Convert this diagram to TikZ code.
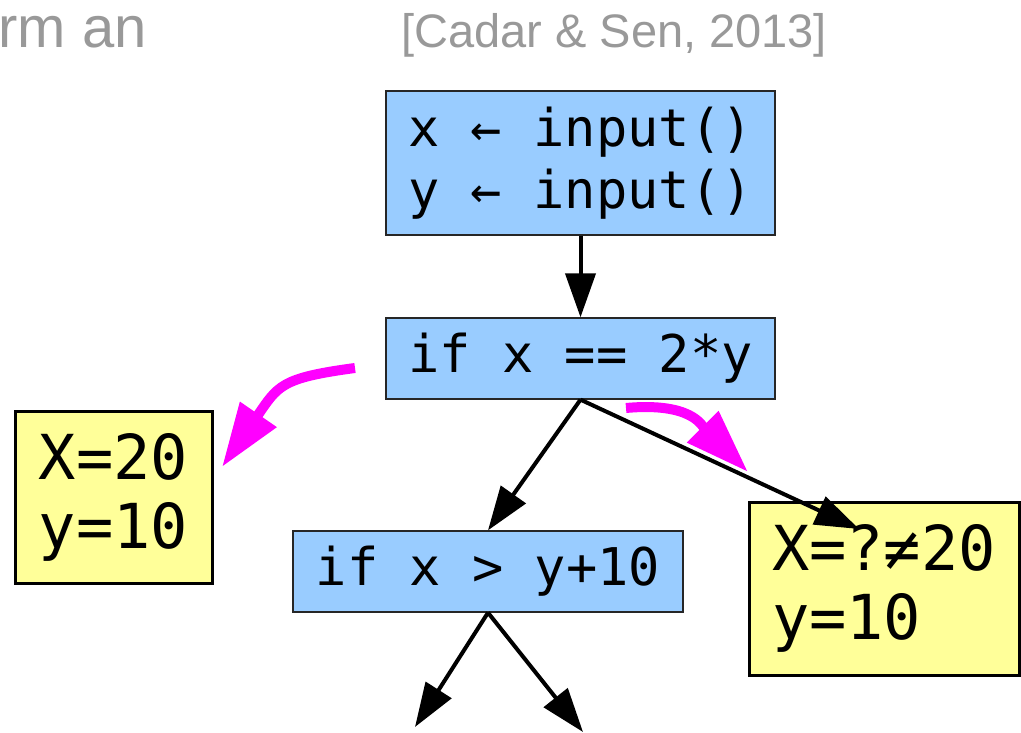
\documentclass[tikz,border=0pt]{standalone}
\usepackage{fontspec}
\setmainfont{Liberation Sans}
\setmonofont{DejaVu Sans Mono}
\usetikzlibrary{arrows.meta}
\definecolor{codeblue}{HTML}{99CCFF}
\definecolor{noteyellow}{HTML}{FFFF99}
\definecolor{cite}{HTML}{999999}
\definecolor{hilite}{HTML}{FF00FF}
\tikzset{
  codebox/.style={draw=black!85, line width=1.3pt, fill=codeblue, inner sep=0pt,
    align=left, font=\ttfamily\fontsize{52}{62}\selectfont},
  statebox/.style={draw=black, line width=3pt, fill=noteyellow, inner sep=0pt,
    align=left, font=\ttfamily\fontsize{62}{69}\selectfont},
  flow/.style={line width=4pt, -{Triangle[length=44pt,width=30pt]}},
  pathmark/.style={hilite, line width=10pt,
    -{Triangle[length=64pt,width=42pt]}},
  heading/.style={text=cite, inner sep=0pt}
}
\begin{document}
\begin{tikzpicture}[x=1pt,y=-1pt]
\useasboundingbox (0,0) rectangle (1021,733);

% heading line
\node[heading, anchor=base east, font=\fontsize{58}{66}\selectfont] (lead)
  at (147,48) {rm an};
\node[heading, anchor=base west, font=\fontsize{47}{56}\selectfont] (ref)
  at (401,48) {[Cadar \& Sen, 2013]};

% program blocks
\node[codebox, minimum width=389pt, minimum height=144pt] (inp) at (580.5,163)
  {x ← input()\\y ← input()};
\node[codebox, minimum width=389pt, minimum height=81pt] (cond1) at (580.5,358.5)
  {if x == 2*y};
\node[codebox, minimum width=390pt, minimum height=81pt] (cond2) at (488,571.5)
  {if x > y+10};

% concrete / symbolic states
\node[statebox, minimum width=197pt, minimum height=172pt] (st1) at (113.5,497)
  {X=20\\y=10};
\node[statebox, minimum width=270pt, minimum height=173pt] (st2) at (884,588.5)
  {X=?≠20\\y=10};

% control flow
\coordinate (into2) at (859,529);
\coordinate (outL) at (415,727);
\coordinate (outR) at (583,732);
\draw[flow] (inp.south) -- (cond1.north);
\draw[flow] (cond1.south) -- (cond2.north);
\draw[flow] (cond1.south) -- (into2);
\draw[flow] (cond2.south) -- (outL);
\draw[flow] (cond2.south) -- (outR);

% explored path markers
\coordinate (mL0) at (355,368);
\coordinate (mL1) at (222,467);
\coordinate (mR0) at (626,408);
\coordinate (mR1) at (748,472);
\draw[pathmark] (mL0) .. controls (280,378) and (278,386) .. (mL1);
\draw[pathmark] (mR0) .. controls (692,402) and (702,426) .. (mR1);
\end{tikzpicture}
\end{document}
